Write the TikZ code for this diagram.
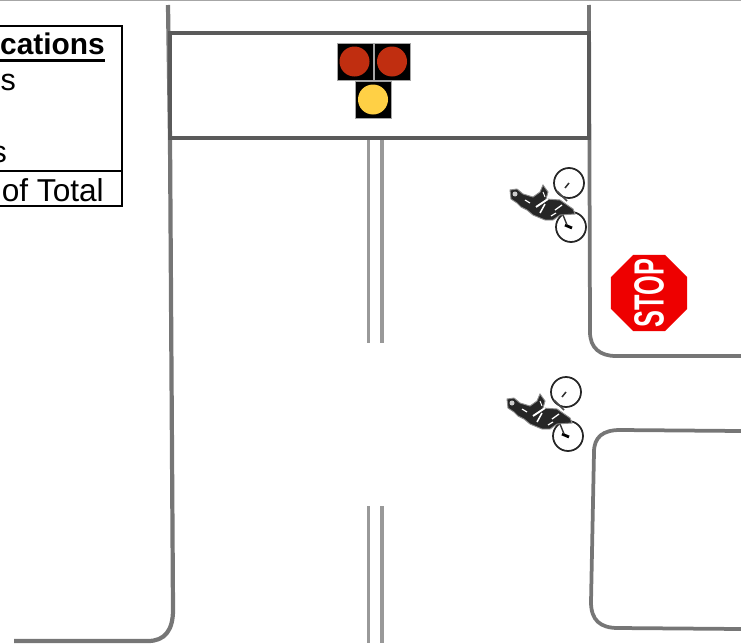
\documentclass[tikz,border=0pt]{standalone}
\usepackage{fontspec}
\usepackage{graphicx}
\setmainfont{Liberation Sans}
\usetikzlibrary{shapes.geometric}
\definecolor{roadgray}{HTML}{767676}
\definecolor{boxgray}{HTML}{5A5A5A}
\definecolor{lampred}{HTML}{C02E10}
\definecolor{lampyellow}{HTML}{FFD045}
\definecolor{signred}{HTML}{EE0000}
\tikzset{
  road/.style={draw=roadgray, line width=3.2pt},
  centerline/.style={draw=gray!80, line width=2.8pt},
  tableline/.style={draw=black, line width=1.5pt},
  lampbox/.style={fill=black, draw=gray!70, line width=0.6pt},
  cyclist/.pic={
    % wheels
    \draw[black!85, line width=1.5pt] (0,0) circle (15);
    \draw[black!85, line width=1.5pt] (2,44) circle (15);
    % frame and hubs
    \draw[black!80, line width=1.3pt] (0,0) -- (-4,5);
    \draw[black!70, line width=1.3pt] (-12,8) -- (-2,18);
    \draw[black, line width=2.4pt] (-4,42) -- (3,45);
    \draw[black!80, line width=1.2pt] (-6,32) -- (-2,42);
    % rider
    \fill[black!85, draw=black!45, line width=0.8pt] (-59,7) -- (-52,6) -- (-46,11) -- (-36,14) -- (-29,9) -- (-26,2) -- (-21,9)
      -- (-23,16) -- (-9,17) -- (4,26) -- (6,31) -- (-9,32) -- (-16,37) -- (-24,37)
      -- (-36,32) -- (-42,27) -- (-48,24) -- (-52,20) -- (-58,16) -- cycle;
    \fill[white!80!black] (-54,11) circle (2.5);
    \draw[white, line width=1.6pt] (-33,24) -- (-21,16);
    \draw[white, line width=1.3pt] (-29,30) -- (-24,21);
    \draw[white, line width=1.1pt] (-14,27) -- (-7,22);
    \draw[white, line width=1pt] (-44,17) -- (-39,20);
    \draw[white, line width=1pt] (-18,33) -- (-13,30);
    \draw[white, line width=0.8pt] (-26,9) -- (-24,14);
  }
}

\begin{document}
\begin{tikzpicture}[x=0.03cm, y=-0.03cm]
\useasboundingbox (0,0) rectangle (741,643);
\clip (0,0) rectangle (741,643);

% top edge
\draw[gray!70, line width=1.5pt] (0,0.5) -- (741,0.5);

% table, cut off at the left
\draw[tableline] (-5,26) -- (122,26) -- (122,206) -- (-5,206);
\draw[tableline] (-5,171) -- (122,171);
\node[anchor=base east, inner sep=0pt, font=\fontsize{25.5}{26}\selectfont\bfseries] (head) at (105,54) {cations};
\draw[black, line width=2.2pt] (-5,60.5) -- (105,60.5);
\node[anchor=base east, inner sep=0pt, font=\fontsize{26}{26}\selectfont] (rowa) at (16,90) {s};
\node[anchor=base east, inner sep=0pt, font=\fontsize{26}{26}\selectfont] (rowb) at (7,162) {s};
\node[anchor=base east, inner sep=0pt, font=\fontsize{27}{27}\selectfont] (total) at (104,201) {of Total};

% roads
\draw[road, line width=3.6pt] (168,5) -- (170,138) -- (173,610) .. controls (173,630) and (165,641) .. (148,641) -- (14,641);
\draw[road] (589,5) -- (590,332) .. controls (590,348) and (600,356) .. (616,356) -- (741,356);
\draw[road] (741,431) -- (620,430) .. controls (603,430) and (594,437) .. (594,452) -- (591,602) .. controls (591,620) and (600,628) .. (618,628) -- (741,629);

% signal arm
\draw[boxgray, line width=2.6pt] (170,33) rectangle (589,138);

% lamps
\fill[lampbox] (337,43) rectangle (373,80);
\fill[lampbox] (374,43) rectangle (410,80);
\fill[lampbox] (355,81) rectangle (391,118);
\foreach \x in {354.5,392} \fill[lampred] (\x,61.5) circle (15);
\fill[lampyellow] (373,99.5) circle (15);

% centre lines
\foreach \x in {368.5,382} {
  \draw[centerline] (\x,140) -- (\x,343);
  \draw[centerline] (\x,506) -- (\x,643);
}

% stop sign
\node[regular polygon, regular polygon sides=8, fill=signred, inner sep=0pt, minimum size=83pt*0.85] (stopsign) at (649,293) {};
\node[rotate=90, text=white, inner sep=0pt, font=\fontsize{36}{36}\selectfont] (stoptext) at (stopsign) {\scalebox{0.6}[1]{\textbf{STOP}}};

% bicycles
\pic at (569,183) {cyclist};
\pic at (566,392) {cyclist};

\end{tikzpicture}
\end{document}
